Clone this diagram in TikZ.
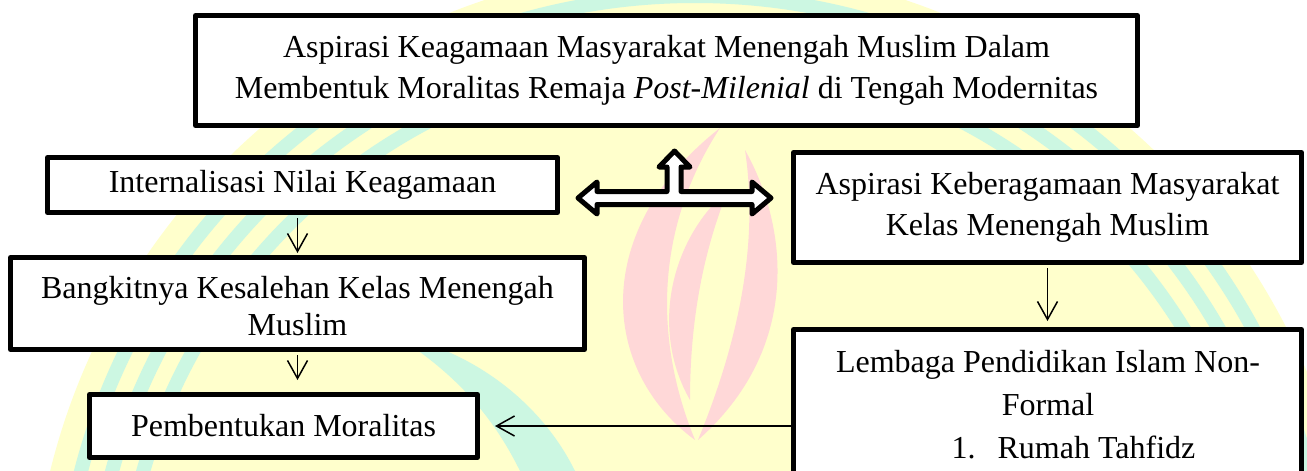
\documentclass[tikz,border=0pt]{standalone}
\usepackage{fontspec}
\setmainfont{Liberation Serif}
\usetikzlibrary{arrows.meta}
\definecolor{wmY}{RGB}{255,255,204}
\definecolor{wmG}{RGB}{204,247,226}
\definecolor{wmP}{RGB}{255,216,216}
\begin{document}
\begin{tikzpicture}[x=0.5pt,y=-0.5pt,
  box/.style={draw=black, line width=2.5pt, fill=white, line join=round, inner sep=0pt, align=center,
    font=\fontsize{16pt}{20.5pt}\selectfont},
  txt/.style={inner sep=0pt, align=center, font=\fontsize{16pt}{21.5pt}\selectfont},
  arr/.style={line width=0.75pt, -{Straight Barb[length=9pt,width=10pt,line width=0.75pt]}},
  blockarrow/.style={draw=black, fill=white, line width=2.5pt, line join=round}
]
\useasboundingbox (0,0) rectangle (1307,471);
\clip (0,0) rectangle (1307,471);
\fill[white] (0,0) rectangle (1307,471);
% watermark
\fill[wmY] (695,630) circle[radius=332pt];
\draw[wmG, line width=7pt] (695,630) circle[radius=287pt];
\draw[wmG, line width=7pt] (695,630) circle[radius=302pt];
\draw[wmG, line width=7pt] (695,630) circle[radius=317pt];
\fill[wmG] (395,335) .. controls (470,350) and (540,400) .. (575,471) -- (520,471) .. controls (490,410) and (450,370) .. (395,335) -- cycle;
\fill[wmP] (695,440) .. controls (600,370) and (590,230) .. (720,128) .. controls (660,220) and (650,330) .. (695,440) -- cycle;
\fill[wmP] (698,440) .. controls (800,350) and (790,230) .. (745,150) .. controls (760,250) and (735,350) .. (698,440) -- cycle;
\fill[wmP] (690,400) .. controls (650,330) and (670,240) .. (728,190) .. controls (700,260) and (690,330) .. (690,400) -- cycle;
\fill[wmP] (640,230) .. controls (670,260) and (670,300) .. (645,335) .. controls (650,300) and (650,260) .. (640,230) -- cycle;

% boxes
\node[box, minimum width=471pt, minimum height=55pt] (top) at (666.5,70.5)
  {Aspirasi Keagamaan Masyarakat Menengah Muslim Dalam\\Membentuk Moralitas Remaja \textit{Post-Milenial} di Tengah Modernitas};
\node[box, minimum width=255pt, minimum height=27.5pt] (int) at (302.5,185) {Internalisasi Nilai Keagamaan};
\node[box, minimum width=287pt, minimum height=46pt, text depth=0pt] (bang) at (297.5,303.5) {\raisebox{-2pt}{\shortstack{Bangkitnya Kesalehan Kelas Menengah\\[1pt]Muslim}}};
\node[box, minimum width=194pt, minimum height=31.5pt] (pem) at (283.5,426) {Pembentukan Moralitas};
\node[box, minimum width=254pt, minimum height=55pt] (asp) at (1047.5,207.5) {Aspirasi Keberagamaan Masyarakat\\Kelas Menengah Muslim};
\node[box, minimum width=254pt, minimum height=125pt, anchor=north] (lem) at (1047.5,327) {};
\node[txt] (lemtext) at (1048,405) {Lembaga Pendidikan Islam Non-\\Formal\\\hspace*{25.5pt}1.\hspace{11pt}Rumah Tahfidz};

% thin arrows
\draw[arr, shorten <=1.5pt, shorten >=1pt] (bang.north |- int.south) -- (bang.north);
\draw[arr, shorten <=1.5pt, shorten >=6pt] (bang.south) -- (bang.south |- pem.north);
\draw[arr, shorten <=1.5pt, shorten >=3pt] (asp.south) -- (lem.north);
\draw[arr, shorten >=7.5pt] (lem.west |- pem.east) -- (pem.east);

% block arrow (left-right-up)
\draw[blockarrow] (578,198) -- (597,182) -- (597,191.5) -- (667,191.5) -- (667,167) -- (659,167)
  -- (674.5,151) -- (690,167) -- (681,167) -- (681,191.5) -- (752,191.5) -- (752,182) -- (771,198)
  -- (752,214) -- (752,204.5) -- (597,204.5) -- (597,214) -- cycle;
\end{tikzpicture}
\end{document}
